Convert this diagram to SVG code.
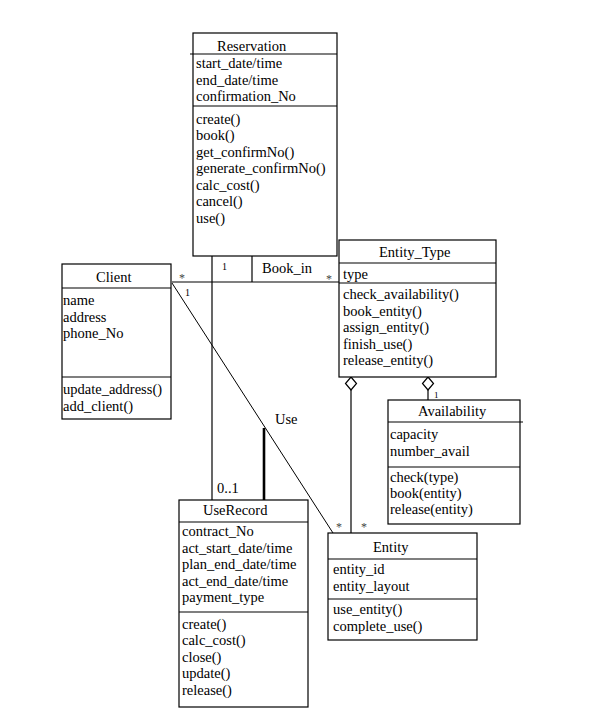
<svg xmlns="http://www.w3.org/2000/svg" width="591" height="715" viewBox="0 0 591 715">
<style>
text{font-family:"Liberation Serif","Times New Roman",serif;font-size:14.5px;fill:#000}
.box{fill:#fff;stroke:#000;stroke-width:1.2}
.sep{stroke:#000;stroke-width:1.2}
.ln{fill:none;stroke:#000;stroke-width:1.2}
.thin{fill:none;stroke:#000;stroke-width:1}
.dia{fill:#fff;stroke:#000;stroke-width:1.2}
.sm{font-size:10px}
.st{font-size:12px;fill:#444}
</style>
<rect width="591" height="715" fill="#fff"/>
<g id="connectors">
<line class="ln" x1="172" y1="282" x2="339" y2="282"/>
<line class="ln" x1="252" y1="256" x2="252" y2="282"/>
<line class="ln" x1="212" y1="256" x2="212" y2="500"/>
<line class="thin" x1="172" y1="283" x2="333" y2="533"/>
<line x1="264" y1="428" x2="264" y2="500" stroke="#000" stroke-width="2.6"/>
<line class="ln" x1="351" y1="390" x2="351" y2="533"/>
<line class="ln" x1="428" y1="390" x2="428" y2="400"/>
<path class="dia" d="M351,377 L356.5,383.5 L351,390 L345.5,383.5 Z"/>
<path class="dia" d="M428,377 L433.5,383.5 L428,390 L422.5,383.5 Z"/>
<text x="262" y="273">Book_in</text>
<text x="275" y="424">Use</text>
<text x="217" y="493">0..1</text>
<text class="st" x="179" y="282">*</text>
<text class="sm" x="185" y="296">1</text>
<text class="sm" x="222" y="270">1</text>
<text class="st" x="326" y="283">*</text>
<text class="st" x="336" y="531">*</text>
<text class="st" x="361" y="531">*</text>
<text class="sm" x="434" y="398" style="font-size:9px">1</text>
</g>
<g id="Reservation">
<rect class="box" x="193" y="33" width="144" height="223"/>
<line class="sep" x1="190" y1="54" x2="337" y2="54"/>
<line class="sep" x1="193" y1="106" x2="337" y2="106"/>
<text x="217" y="51">Reservation</text>
<text x="196" y="68">start_date/time</text>
<text x="196" y="84.5">end_date/time</text>
<text x="196" y="101">confirmation_No</text>
<text x="196" y="123.5">create()</text>
<text x="196" y="140">book()</text>
<text x="196" y="156.5">get_confirmNo()</text>
<text x="196" y="173">generate_confirmNo()</text>
<text x="196" y="189.5">calc_cost()</text>
<text x="196" y="206">cancel()</text>
<text x="196" y="222.5">use()</text>
</g>
<g id="Client">
<rect class="box" x="62" y="264" width="109" height="155"/>
<line class="sep" x1="62" y1="288" x2="171" y2="288"/>
<line class="sep" x1="62" y1="377" x2="171" y2="377"/>
<text x="96" y="282">Client</text>
<text x="63" y="305">name</text>
<text x="63" y="321.5">address</text>
<text x="63" y="338">phone_No</text>
<text x="63" y="394">update_address()</text>
<text x="63" y="411">add_client()</text>
</g>
<g id="Entity_Type">
<rect class="box" x="339" y="240" width="157" height="137"/>
<line class="sep" x1="339" y1="263" x2="496" y2="263"/>
<line class="sep" x1="339" y1="283" x2="496" y2="283"/>
<text x="379" y="257">Entity_Type</text>
<text x="343" y="279">type</text>
<text x="343" y="299">check_availability()</text>
<text x="343" y="315.5">book_entity()</text>
<text x="343" y="332">assign_entity()</text>
<text x="343" y="348.5">finish_use()</text>
<text x="343" y="365">release_entity()</text>
</g>
<g id="Availability">
<rect class="box" x="388" y="400" width="132" height="124"/>
<line class="sep" x1="388" y1="422" x2="523" y2="422"/>
<line class="sep" x1="388" y1="467" x2="520" y2="467"/>
<text x="418" y="416">Availability</text>
<text x="390" y="439">capacity</text>
<text x="390" y="455.5">number_avail</text>
<text x="390" y="482">check(type)</text>
<text x="390" y="498">book(entity)</text>
<text x="390" y="514">release(entity)</text>
</g>
<g id="UseRecord">
<rect class="box" x="179" y="500" width="129" height="207"/>
<line class="sep" x1="179" y1="522" x2="308" y2="522"/>
<line class="sep" x1="179" y1="612" x2="308" y2="612"/>
<text x="203" y="515">UseRecord</text>
<text x="182" y="536">contract_No</text>
<text x="182" y="552.5">act_start_date/time</text>
<text x="182" y="569">plan_end_date/time</text>
<text x="182" y="585.5">act_end_date/time</text>
<text x="182" y="602">payment_type</text>
<text x="182" y="628.5">create()</text>
<text x="182" y="645">calc_cost()</text>
<text x="182" y="661.5">close()</text>
<text x="182" y="678">update()</text>
<text x="182" y="694.5">release()</text>
</g>
<g id="Entity">
<rect class="box" x="328" y="533" width="149" height="107"/>
<line class="sep" x1="328" y1="559" x2="477" y2="559"/>
<line class="sep" x1="328" y1="599" x2="477" y2="599"/>
<text x="373" y="552">Entity</text>
<text x="333" y="574">entity_id</text>
<text x="333" y="590.5">entity_layout</text>
<text x="333" y="614">use_entity()</text>
<text x="333" y="630.5">complete_use()</text>
</g>
</svg>
